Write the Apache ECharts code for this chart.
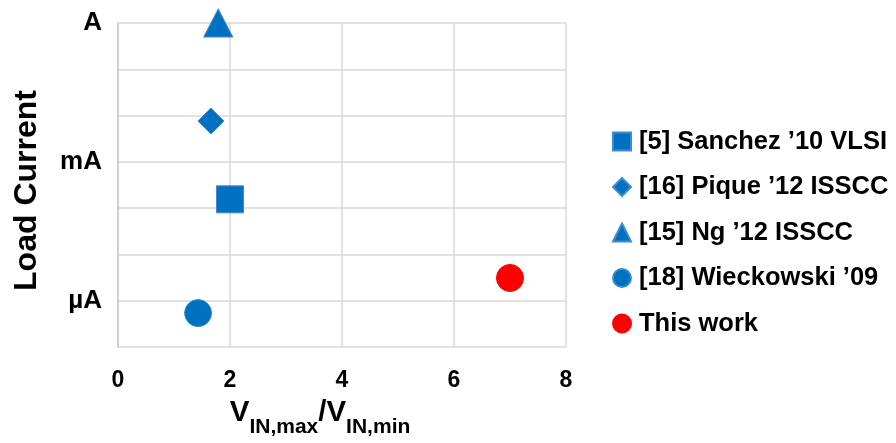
<!DOCTYPE html>
<html>
<head>
<meta charset="utf-8">
<script src="https://cdn.jsdelivr.net/npm/echarts@6/dist/echarts.min.js"></script>
<style>html,body{margin:0;padding:0;background:#fff;}#c{width:896px;height:443px;}</style>
</head>
<body>
<div id="c"></div>
<script>
// Data
const seriesNames = ["[5] Sanchez \u201910 VLSI", "[16] Pique \u201912 ISSCC", "[15] Ng \u201912 ISSCC", "[18] Wieckowski \u201909", "This work"];
const seriesSymbols = ["rect", "diamond", "triangle", "circle", "circle"];
const seriesColors = ["#0070c0", "#0070c0", "#0070c0", "#0070c0", "#ff0000"];
const seriesSizes = [27, 26, [29, 28], 27, 27];
const xValues = [2.0, 1.66, 1.79, 1.43, 7.0];          // V_IN,max / V_IN,min
const yValues = [1.55e-4, 7.6e-3, 1.0, 5.4e-7, 3.1e-6]; // load current (A)
const xTicks = [0, 2, 4, 6, 8];
const yTickLabels = { "0": "A", "-3": "mA", "-6": "\u00b5A" };

const FONT = "'Liberation Sans', Arial, sans-serif";
const chart = echarts.init(document.getElementById('c'), null, { renderer: 'canvas' });

const series = seriesNames.map((name, i) => ({
  name: name,
  type: 'scatter',
  symbol: seriesSymbols[i],
  symbolSize: seriesSizes[i],
  data: [[xValues[i], yValues[i]]],
  itemStyle: {
    color: seriesColors[i],
    borderColor: i < 4 ? '#3d8bd0' : '#ff0000',
    borderWidth: 1,
    opacity: 1
  },
  emphasis: { disabled: true },
  z: 5
}));

chart.setOption({
  animation: false,
  backgroundColor: '#ffffff',
  grid: { left: 118, right: 330, top: 23, bottom: 93, containLabel: false },
  legend: {
    orient: 'vertical',
    left: 607,
    top: 122,
    itemWidth: 18,
    itemHeight: 18,
    itemGap: 16.5,
    data: seriesNames.map((n, i) => ({ name: n, icon: seriesSymbols[i] })),
    textStyle: { fontFamily: FONT, fontWeight: 'bold', fontSize: 25.5, lineHeight: 29, color: '#000', padding: [0, 0, 0, 3] },
    selectedMode: false
  },
  xAxis: {
    type: 'value',
    min: xTicks[0],
    max: xTicks[xTicks.length - 1],
    interval: 2,
    axisLine: { show: false },
    axisTick: { show: false },
    splitLine: { show: true, lineStyle: { color: '#d9d9d9', width: 1.5 } },
    axisLabel: {
      margin: 22,
      fontFamily: FONT, fontWeight: 'bold', fontSize: 23, color: '#000',
      formatter: v => String(v)
    },
    name: '{v|V}{s|IN,max}{v|/V}{s|IN,min}',
    nameLocation: 'middle',
    nameGap: 50,
    nameTextStyle: {
      padding: [0, 44, 0, 0],
      rich: {
        v: { fontFamily: FONT, fontWeight: 'bold', fontSize: 29.5, color: '#000', verticalAlign: 'bottom', lineHeight: 31 },
        s: { fontFamily: FONT, fontWeight: 'bold', fontSize: 21, color: '#000', verticalAlign: 'bottom', lineHeight: 23, padding: [0, 0, -10, 0] }
      }
    }
  },
  yAxis: {
    type: 'log',
    logBase: 10,
    min: 1e-7,
    max: 1,
    interval: 1,
    axisLine: { show: true, lineStyle: { color: '#c8c8c8', width: 1.5 } },
    axisTick: { show: false },
    splitLine: { show: true, lineStyle: { color: '#d9d9d9', width: 1.5 } },
    axisLabel: {
      margin: 16,
      fontFamily: FONT, fontWeight: 'bold', fontSize: 26, color: '#000',
      formatter: function (v) {
        const e = Math.round(Math.log10(v));
        return yTickLabels[String(e)] || '';
      }
    },
    name: 'Load Current',
    nameLocation: 'middle',
    nameGap: 75,
    nameTextStyle: { fontFamily: FONT, fontWeight: 'bold', fontSize: 32, color: '#000', padding: [0, 11, 0, 0] }
  },
  series: series
});
</script>
</body>
</html>
